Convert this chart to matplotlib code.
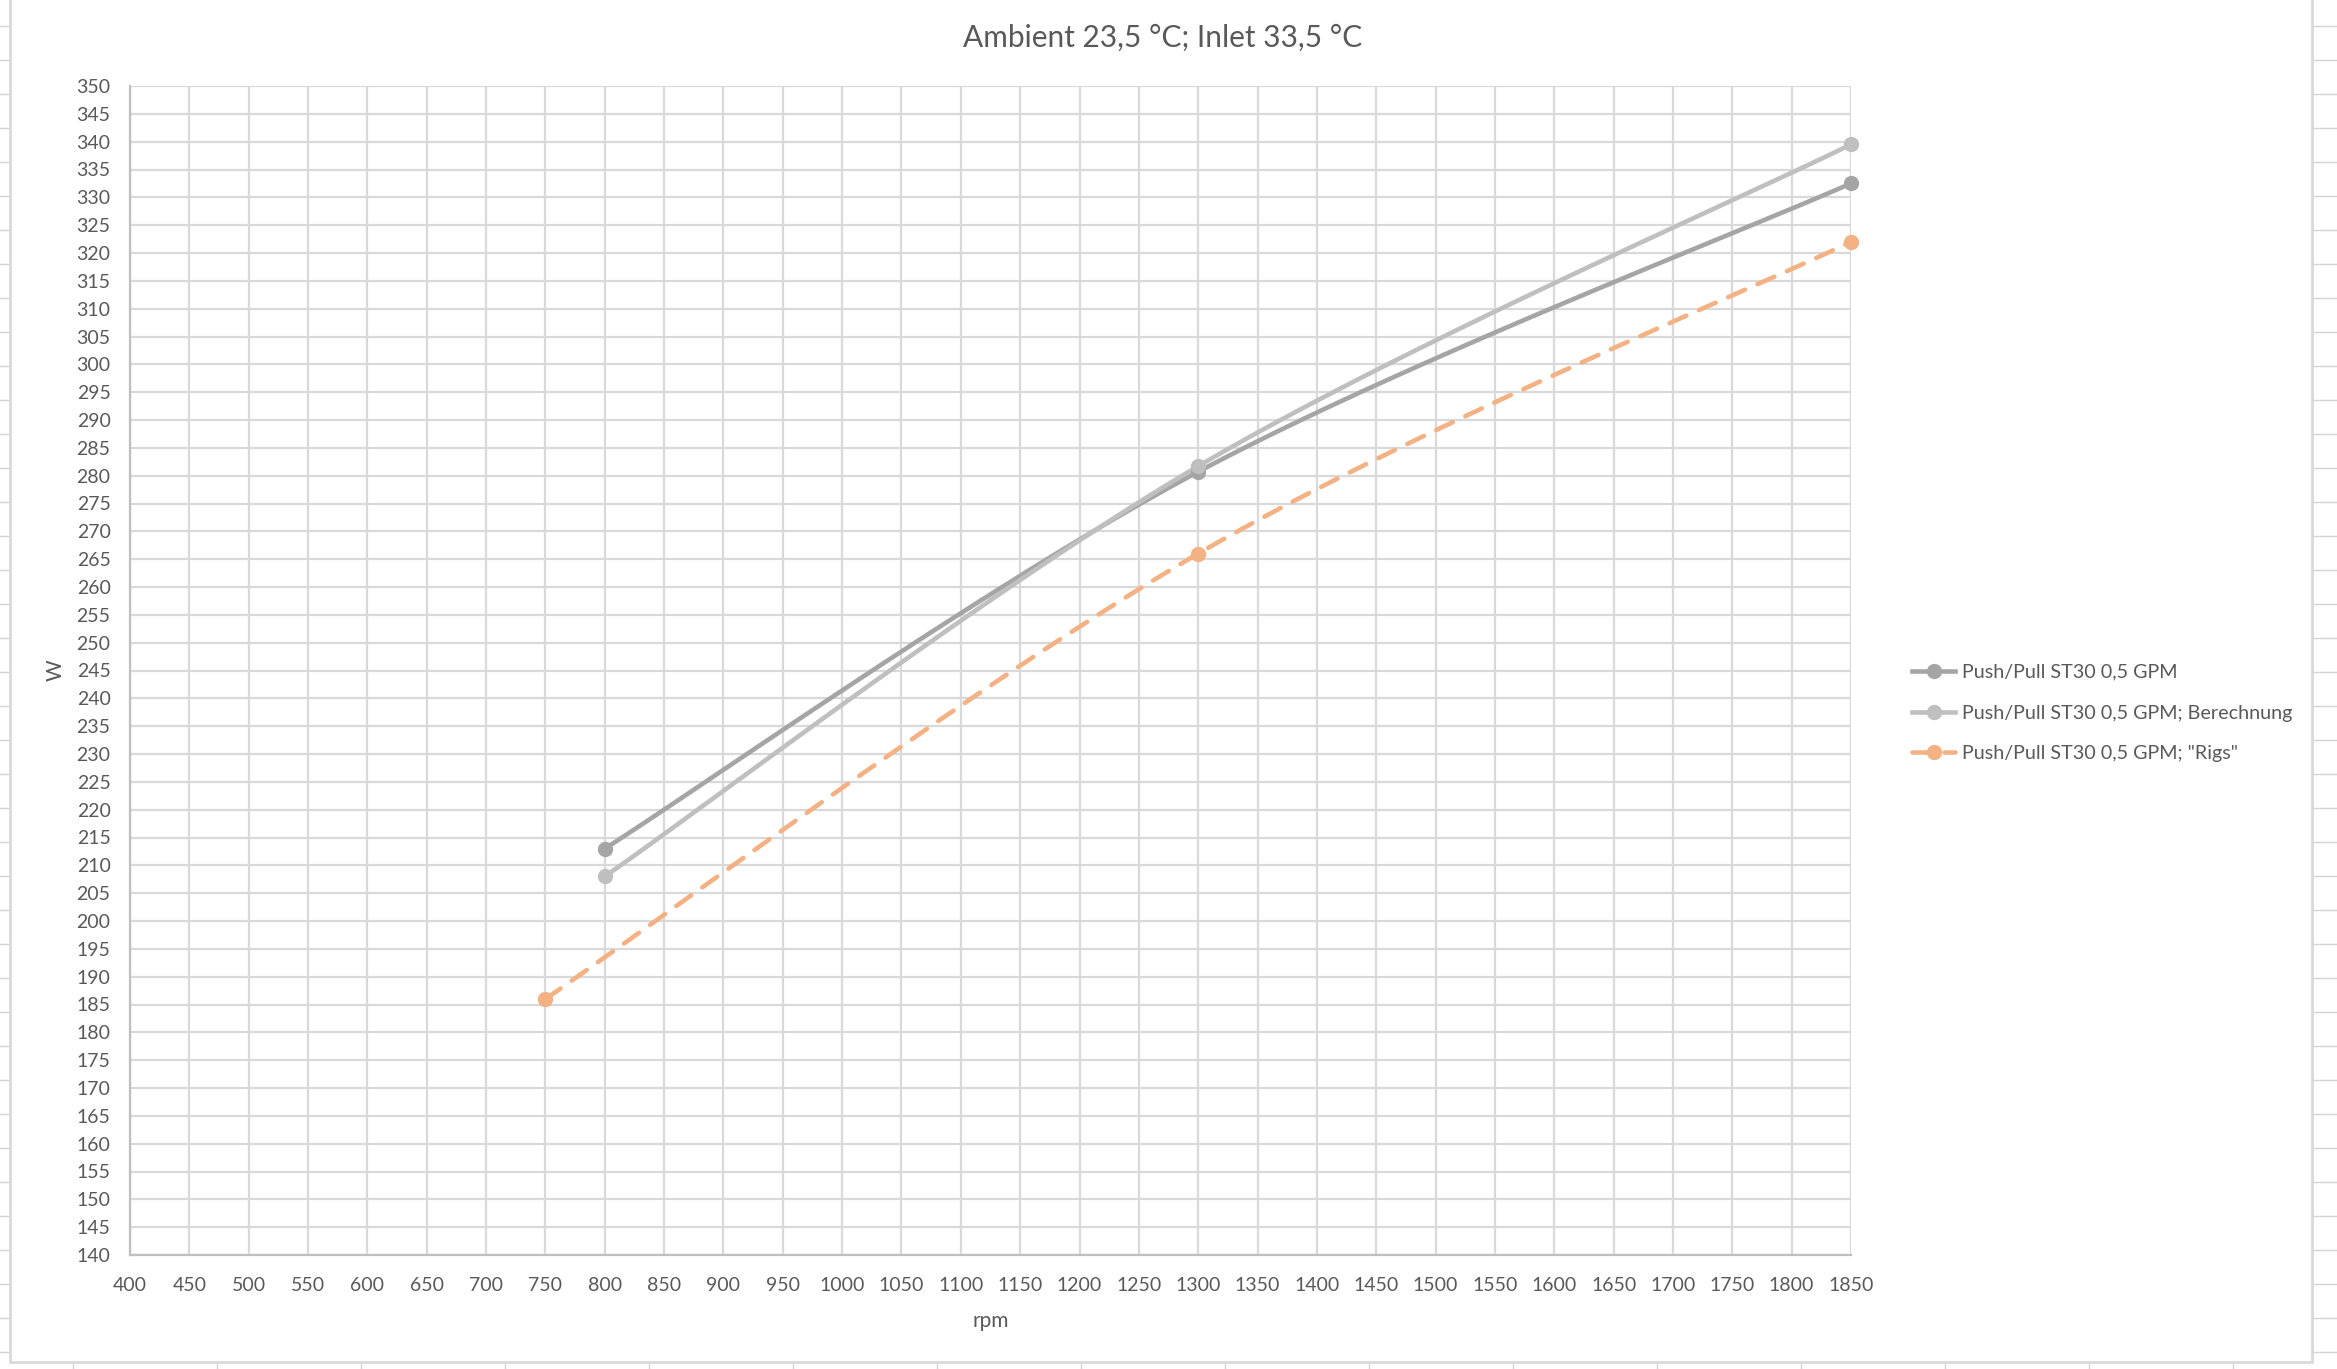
import numpy as np
import matplotlib
matplotlib.use("Agg")
import matplotlib.pyplot as plt
from matplotlib.lines import Line2D
from matplotlib.patches import Rectangle

# ---- data ----
title = "Ambient 23,5 °C; Inlet 33,5 °C"
x_label = "rpm"
y_label = "W"
s1_name = "Push/Pull ST30 0,5 GPM"
s1_x = [800, 1300, 1850]
s1_y = [213, 280.7, 332.5]
s2_name = "Push/Pull ST30 0,5 GPM; Berechnung"
s2_x = [800, 1300, 1850]
s2_y = [208, 281.7, 339.5]
s3_name = 'Push/Pull ST30 0,5 GPM; "Rigs"'
s3_x = [750, 1300, 1850]
s3_y = [186, 266, 322]
x_ticks = list(range(400, 1851, 50))
y_ticks = list(range(140, 351, 5))

W, H = 2337, 1369
DPI = 100
plt.rcParams['font.family'] = ['Lato', 'DejaVu Sans']

def excel_smooth(x, y, n=60):
    pts = np.column_stack([x, y]).astype(float)
    P = np.vstack([pts[0], pts, pts[-1]])
    segs = []
    t = np.linspace(0, 1, n)[:, None]
    for i in range(1, len(P) - 2):
        p0, p1, p2, p3 = P[i - 1], P[i], P[i + 1], P[i + 2]
        c1 = p1 + (p2 - p0) / 6.0
        c2 = p2 - (p3 - p1) / 6.0
        b = (1 - t) ** 3 * p1 + 3 * (1 - t) ** 2 * t * c1 + 3 * (1 - t) * t ** 2 * c2 + t ** 3 * p2
        segs.append(b)
    return np.vstack(segs)

fig = plt.figure(figsize=(W / DPI, H / DPI), dpi=DPI)
fig.patch.set_facecolor('white')

def fx(px):
    return px / W
def fy(py):
    return 1 - py / H

# spreadsheet grid outside chart area
grid_c = '#D4D4D4'
for k in range(0, 41):
    yy = 26 + 34 * k
    if yy < H:
        fig.add_artist(Line2D([fx(0), fx(10)], [fy(yy), fy(yy)], color=grid_c, lw=1.0, zorder=-2))
        fig.add_artist(Line2D([fx(2313), fx(W)], [fy(yy), fy(yy)], color=grid_c, lw=1.0, zorder=-2))
for k in range(0, 17):
    xx = 73 + 144 * k
    if xx < W:
        fig.add_artist(Line2D([fx(xx), fx(xx)], [fy(1363), fy(H)], color=grid_c, lw=1.0, zorder=-2))
# chart area border
fig.add_artist(Rectangle((fx(10), fy(1362)), fx(2312) - fx(10), fy(-5) - fy(1362),
                         facecolor='white', edgecolor='#D9D9D9', lw=2.0, zorder=-1))

ax = fig.add_axes([fx(130), fy(1255), fx(1851) - fx(130), fy(86) - fy(1255)])
ax.set_facecolor('none')
ax.set_xlim(400, 1850)
ax.set_ylim(140, 350)
ax.set_xticks(x_ticks)
ax.set_yticks(y_ticks)
ax.grid(True, color='#D9D9D9', lw=1.6)
ax.set_axisbelow(True)
for side in ['top', 'right']:
    ax.spines[side].set_visible(False)
for side in ['left', 'bottom']:
    ax.spines[side].set_color('#BFBFBF')
    ax.spines[side].set_linewidth(1.6)
ax.tick_params(length=0, labelsize=14, colors='#595959')
ax.tick_params(axis='x', pad=16)
ax.tick_params(axis='y', pad=14)

series = [
    (s1_x, s1_y, s1_name, '#A5A5A5', '-'),
    (s2_x, s2_y, s2_name, '#BFBFBF', '-'),
    (s3_x, s3_y, s3_name, '#F4B183', (0, (4, 3))),
]
handles = []
for xs, ys, name, col, ls in series:
    c = excel_smooth(xs, ys)
    ax.plot(c[:, 0], c[:, 1], color=col, lw=3.3, linestyle=ls, solid_capstyle='round',
            dash_capstyle='round', zorder=3, clip_on=False)
    ax.plot(xs, ys, linestyle='none', marker='o', ms=10, color=col, mec=col, zorder=4, clip_on=False)
    handles.append(Line2D([], [], color=col, lw=3.3, linestyle=ls, marker='o', ms=10,
                          mec=col, dash_capstyle='round'))

ax.set_xlabel(x_label, fontsize=15, color='#595959', labelpad=12)
ax.set_ylabel(y_label, fontsize=15, color='#595959', labelpad=8)

fig.text(fx(1163), fy(38), title, fontsize=21.5, color='#595959', ha='center', va='center')

leg = fig.legend(handles=[handles[0], handles[1], handles[2]],
                 labels=[s1_name, s2_name, s3_name],
                 loc='center left', bbox_to_anchor=(fx(1912), fy(713)),
                 frameon=False, fontsize=14.2, handlelength=2.2, handletextpad=0.35,
                 labelspacing=1.2, borderpad=0, borderaxespad=0)
for t in leg.get_texts():
    t.set_color('#595959')

fig.savefig('out.png', dpi=DPI)
